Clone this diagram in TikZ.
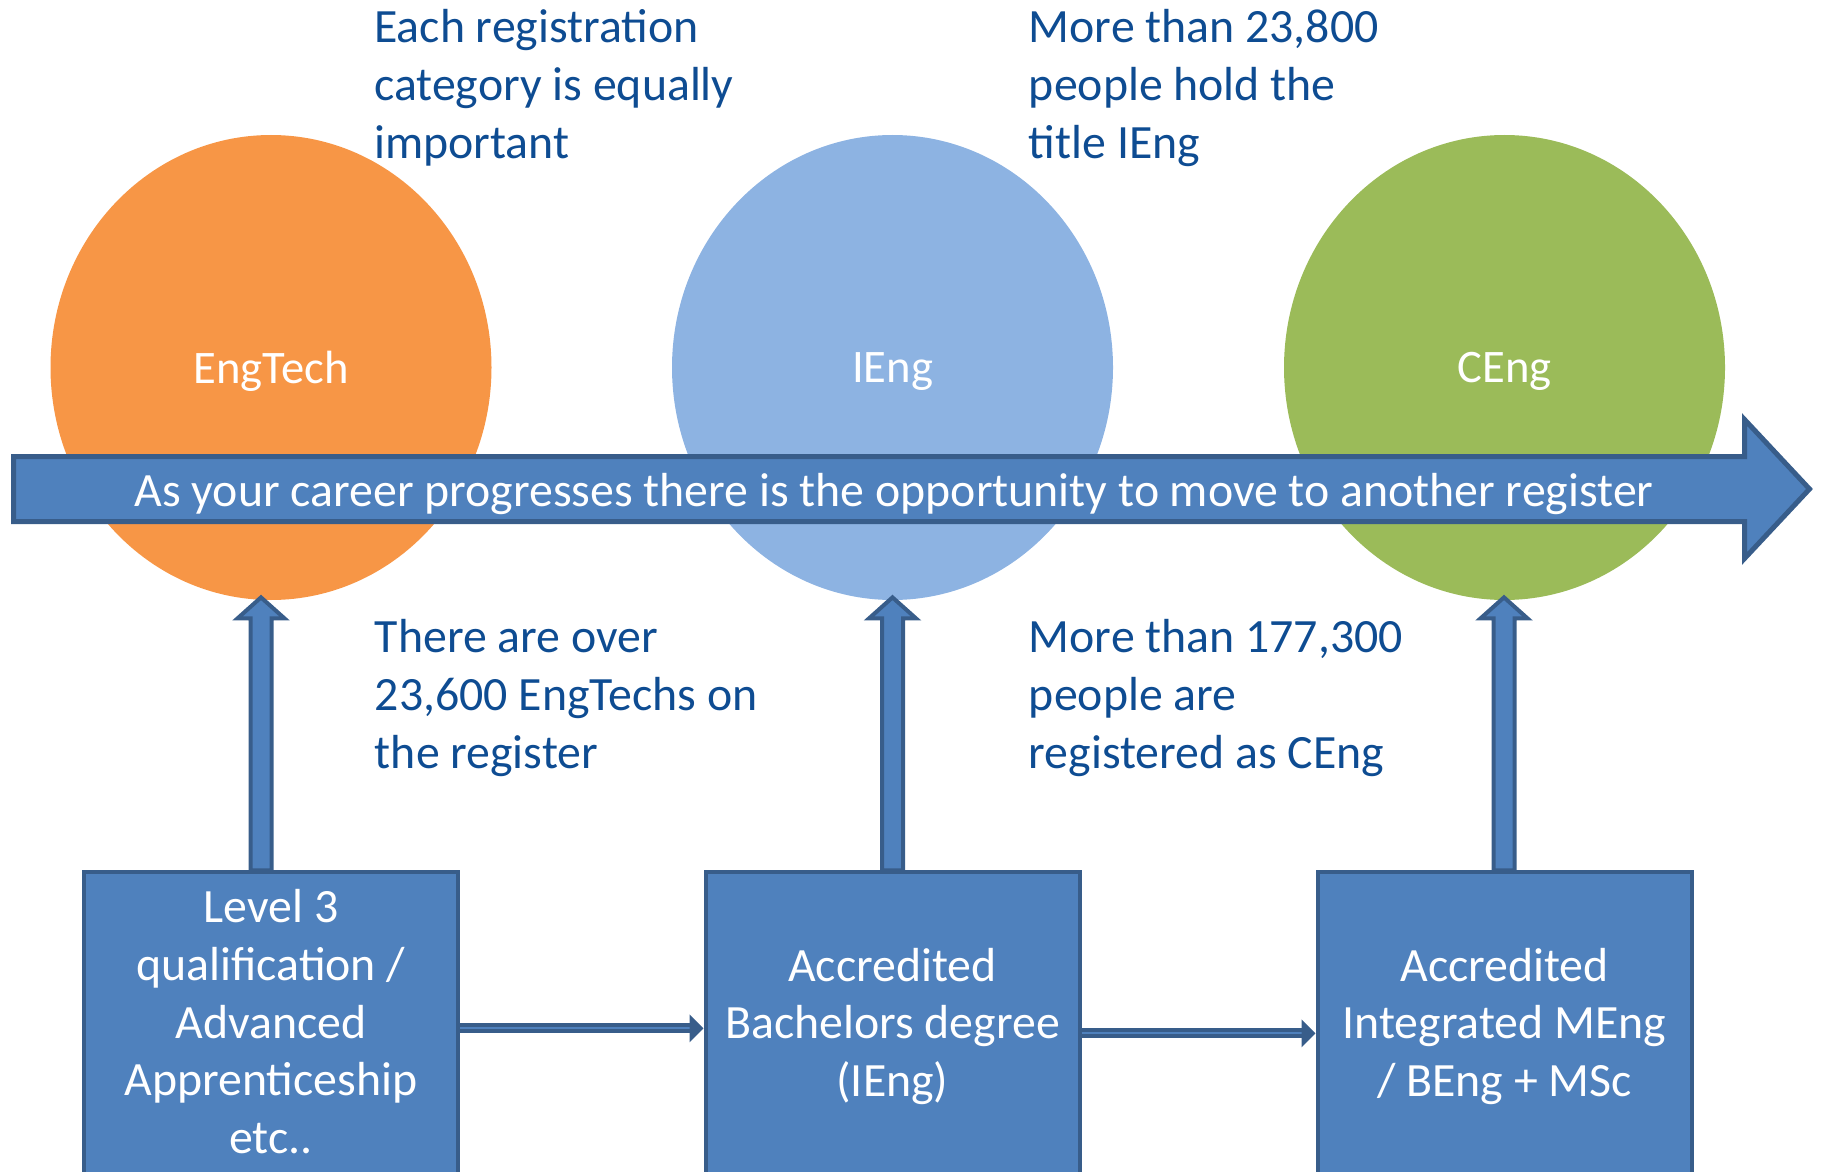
\documentclass[tikz,border=0pt]{standalone}
\usepackage{fontspec}
\setmainfont{Carlito}
\usepackage{tikz}
\usetikzlibrary{arrows.meta,positioning,shapes.geometric,calc}

\definecolor{engorange}{HTML}{F79646}
\definecolor{iengblue}{HTML}{8DB3E2}
\definecolor{cenggreen}{HTML}{9BBB59}
\definecolor{fillblue}{HTML}{4F81BD}
\definecolor{edgeblue}{HTML}{385D8A}
\definecolor{notetext}{HTML}{0E4C92}

\newcommand{\regfont}{\fontsize{23.9}{28.8}\selectfont}
\newcommand{\labfont}{\fontsize{23.3}{28.8}\selectfont}

\begin{document}
\begin{tikzpicture}[
    x=0.5pt, y=-0.5pt,
    circ/.style={ellipse, minimum width=220.5pt, minimum height=232.5pt, inner sep=0pt, text depth=0pt, text=white, font=\labfont},
    regbox/.style={draw=edgeblue, fill=fillblue, line width=2pt, minimum width=187pt, minimum height=154pt, align=center, inner sep=0pt, text=white, font=\regfont},
    note/.style={anchor=base west, align=left, inner sep=0pt, text=notetext, font=\regfont},
    bigarr/.style={draw=edgeblue, fill=fillblue, line width=2.5pt},
    uparr/.style={draw=edgeblue, fill=fillblue, line width=2pt},
    sidearr/.style={draw=edgeblue, double=fillblue, double distance=1pt, line width=2pt, -{Triangle[length=7pt,width=13.5pt]}}
]
\useasboundingbox (0,0) rectangle (1826,1172);

% registers
\node[circ, fill=engorange] (engtech) at (271,367.5) {EngTech};
\node[circ, fill=iengblue] (ieng) at (892.5,367.5) {IEng};
\node[circ, fill=cenggreen] (ceng) at (1504.5,367.5) {CEng};

% career arrow
\draw[bigarr] (13.5,456.5) -- (1744.5,456.5) -- (1744.5,419.5) -- (1809.5,489)
    -- (1744.5,558.5) -- (1744.5,521.5) -- (13.5,521.5) -- cycle;
\node[text=white, font=\regfont] (career) at (894,494.5)
    {As your career progresses there is the opportunity to move to another register};

% notes (anchored on the last line)
\node[note] (equal) at (374,158) {Each registration\\category is equally\\important};
\node[note] (iengcount) at (1028.5,158) {More than 23,800\\people hold the\\title IEng};
\node[note] (techcount) at (374.5,768) {There are over\\23,600 EngTechs on\\the register};
\node[note] (cengcount) at (1028.5,768) {More than 177,300\\people are\\registered as CEng};

% routes
\node[regbox, below=135pt of engtech, text depth=5pt] (lvl3) {Level 3\\qualification /\\Advanced\\Apprenticeship\\etc..};
\node[regbox, below=135pt of ieng] (bach) {Accredited\\Bachelors degree\\(IEng)};
\node[regbox, below=135pt of ceng] (meng) {Accredited\\Integrated MEng\\/ BEng + MSc};

\draw[uparr] ($(lvl3.north)+(-20.5,0)$) -- ++(0,-252) -- ++(-13,0) -- ++(23.5,-21)
    -- ++(23.5,21) -- ++(-13,0) -- ++(0,252) -- cycle;
\draw[uparr] ($(bach.north)+(-10.5,0)$) -- ++(0,-252) -- ++(-13,0) -- ++(23.5,-21)
    -- ++(23.5,21) -- ++(-13,0) -- ++(0,252) -- cycle;
\draw[uparr] ($(meng.north)+(-11,0)$) -- ++(0,-252) -- ++(-13,0) -- ++(23.5,-21)
    -- ++(23.5,21) -- ++(-13,0) -- ++(0,252) -- cycle;

\draw[sidearr] ([yshift=-1pt]lvl3.east) -- ([yshift=-1pt]bach.west);
\draw[sidearr] ([yshift=-3.5pt]bach.east) -- ([yshift=-3.5pt]meng.west);
\end{tikzpicture}
\end{document}
